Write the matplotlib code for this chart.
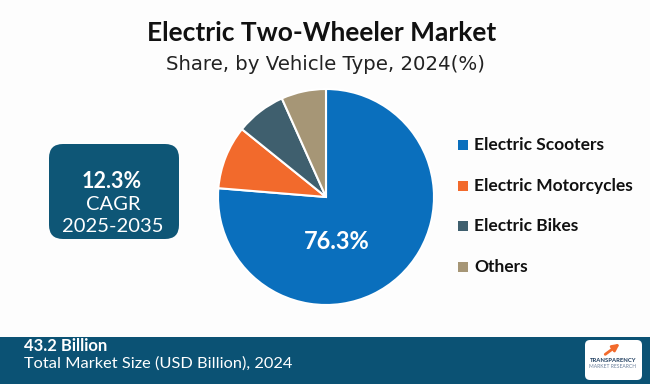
import matplotlib.pyplot as plt
from matplotlib.patches import FancyBboxPatch, Rectangle

plt.rcParams['font.family'] = ['Lato', 'DejaVu Sans']

segments = ['Electric Scooters', 'Electric Motorcycles', 'Electric Bikes', 'Others']
shares = [76.3, 9.5, 7.5, 6.7]
colors = ['#0a6fbd', '#f26a2c', '#3f5f6e', '#a69676']

W, H = 650, 384
fig = plt.figure(figsize=(6.5, 3.84), dpi=100)
fig.patch.set_facecolor('#fdfdfd')

# figure-level overlay in pixel coords (y down)
bg = fig.add_axes([0, 0, 1, 1])
bg.set_xlim(0, W)
bg.set_ylim(H, 0)
bg.axis('off')

bg.text(322, 33, 'Electric Two-Wheeler Market', ha='center', va='center',
        fontsize=19, fontweight='bold', color='#111111')
bg.text(326, 64, 'Share, by Vehicle Type, 2024(%)', ha='center', va='center',
        fontsize=14.2, color='#222222', family=['DejaVu Sans'])

# CAGR box
bg.add_patch(FancyBboxPatch((49, 144), 130, 95, boxstyle='round,pad=0,rounding_size=14',
                            fc='#0e5676', ec='none'))
bg.text(112, 182, '12.3%', ha='center', va='center', fontsize=15.5, fontweight='bold', color='white')
bg.text(113, 205, 'CAGR', ha='center', va='center', fontsize=14.5, color='white')
bg.text(113, 226, '2025-2035', ha='center', va='center', fontsize=14.5, color='white')

# legend
for i, (name, c) in enumerate(zip(segments, colors)):
    y = 145 + i * 40.5
    bg.add_patch(Rectangle((458, y - 5), 10, 10, fc=c, ec='none'))
    bg.text(474, y, name, ha='left', va='center', fontsize=12.5, fontweight='bold', color='#111111')

# bottom bar
bg.add_patch(Rectangle((0, 337), W, 47, fc='#0b5274', ec='none'))
bg.text(24, 346, '43.2 Billion', ha='left', va='center', fontsize=12, fontweight='bold', color='white')
bg.text(24, 364, 'Total Market Size (USD Billion), 2024', ha='left', va='center', fontsize=11.8, color='white')

# logo
bg.add_patch(FancyBboxPatch((585, 340), 57, 40, boxstyle='round,pad=0,rounding_size=5',
                            fc='white', ec='none'))
bg.annotate('', xy=(622, 342), xytext=(603, 356),
            arrowprops=dict(arrowstyle='-|>', color='#f26a2c', lw=2))
bg.text(613, 361, 'TRANSPARENCY', ha='center', va='center', fontsize=4.2, fontweight='bold', color='#1b3a5c')
bg.text(613, 367, 'MARKET RESEARCH', ha='center', va='center', fontsize=3.6, color='#6a7f9a')

# pie
cx, cy, r = 326, 197, 108
ax = fig.add_axes([(cx - r) / W, 1 - (cy + r) / H, 2 * r / W, 2 * r / H])
ax.pie(shares, colors=colors, startangle=90, counterclock=False,
       wedgeprops=dict(edgecolor='white', linewidth=1.5))
ax.set_aspect('auto')
ax.set_xlim(-1, 1)
ax.set_ylim(-1, 1)
ax.axis('off')
ax.text(0.1, -0.41, f'{shares[0]}%', ha='center', va='center', fontsize=17,
        fontweight='bold', color='white')

fig.savefig('out.png', dpi=100, facecolor=fig.get_facecolor())
